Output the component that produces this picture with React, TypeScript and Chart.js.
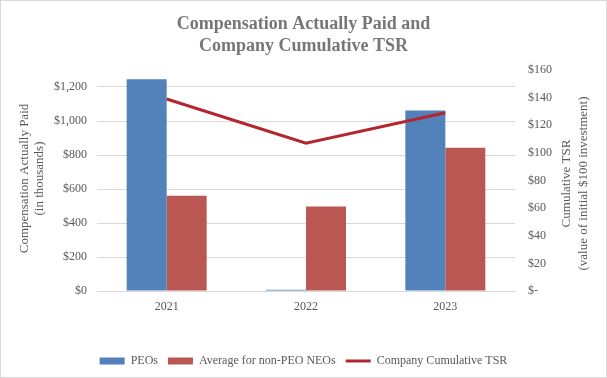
import React, { useEffect, useRef } from 'react';
import { Chart, registerables } from 'chart.js';

Chart.register(...registerables);

const categories = ['2021', '2022', '2023'];
const peoValues = [1245, 8, 1062];
const nonPeoValues = [560, 497, 843];
const tsrValues = [139, 107, 129];
const seriesNames = ['PEOs', 'Average for non-PEO NEOs', 'Company Cumulative TSR'];
const chartTitle = ['Compensation Actually Paid and', 'Company Cumulative TSR'];
const leftTitle = ['Compensation Actually Paid', '(in thousands)'];
const rightTitle = ['Cumulative TSR', '(value of initial $100 investment)'];
const leftTicks = [0, 200, 400, 600, 800, 1000, 1200];
const rightTicks = [0, 20, 40, 60, 80, 100, 120, 140, 160];

const FONT = "'Liberation Serif', 'Times New Roman', serif";
const TEXT = '#595959';
const GRID = '#d9d9d9';

const axisTitlePlugin = {
  id: 'axisTitles',
  afterDraw(chart: any) {
    const { ctx, chartArea } = chart;
    const cy = (chartArea.top + chartArea.bottom) / 2;
    ctx.save();
    ctx.font = `13px ${FONT}`;
    ctx.fillStyle = TEXT;
    ctx.textAlign = 'center';
    ctx.textBaseline = 'middle';
    // left title
    ctx.save();
    ctx.translate(chartArea.left - 72, cy - 2);
    ctx.rotate(-Math.PI / 2);
    leftTitle.forEach((t, i) => ctx.fillText(t, 0, i * 15));
    ctx.restore();
    // right title (same reading direction as the left one)
    ctx.save();
    ctx.translate(chartArea.right + 52, cy + 3);
    ctx.rotate(-Math.PI / 2);
    rightTitle.forEach((t, i) => ctx.fillText(t, 0, i * 17));
    ctx.restore();
    ctx.restore();
  },
};

export default function App() {
  const ref = useRef<HTMLCanvasElement | null>(null);
  useEffect(() => {
    if (!ref.current) return;
    const chart = new Chart(ref.current, {
      type: 'bar',
      data: {
        labels: categories,
        datasets: [
          {
            type: 'bar',
            label: seriesNames[0],
            data: peoValues,
            backgroundColor: '#5381ba',
            borderWidth: 0,
            yAxisID: 'y',
            pointStyle: 'rect',
            order: 1,
          } as any,
          {
            type: 'bar',
            label: seriesNames[1],
            data: nonPeoValues,
            backgroundColor: '#bb5753',
            borderWidth: 0,
            yAxisID: 'y',
            pointStyle: 'rect',
            order: 1,
          },
          {
            type: 'line',
            label: seriesNames[2],
            data: tsrValues,
            borderColor: '#b3262e',
            backgroundColor: '#b3262e',
            borderWidth: 3,
            pointRadius: 0,
            pointStyle: 'line',
            yAxisID: 'y1',
            order: -1,
          },
        ],
      },
      options: {
        responsive: true,
        maintainAspectRatio: false,
        animation: false,
        datasets: { bar: { categoryPercentage: 0.574, barPercentage: 1 } },
        layout: { padding: 0 },
        plugins: {
          tooltip: { enabled: false },
          title: {
            display: true,
            text: chartTitle,
            color: '#767676',
            font: { family: FONT, size: 18, weight: 'bold', lineHeight: 1.25 },
            padding: { top: 12, bottom: 12 },
          },
          legend: {
            position: 'bottom',
            labels: {
              usePointStyle: true,
              pointStyleWidth: 25,
              boxHeight: 7,
              padding: 10,
              color: TEXT,
              font: { family: FONT, size: 12 },
              sort: (a: any, b: any) => a.datasetIndex - b.datasetIndex,
            },
          },
        },
        scales: {
          x: {
            grid: { display: false, drawTicks: false },
            border: { display: true, color: GRID },
            ticks: { color: TEXT, font: { family: FONT, size: 12 }, padding: 9 },
            afterFit: (s: any) => { s.height = 54; },
          },
          y: {
            position: 'left',
            min: 0,
            max: 1300,
            afterBuildTicks: (s: any) => { s.ticks = leftTicks.map((v) => ({ value: v })); },
            grid: { color: GRID, drawTicks: false },
            border: { display: false },
            ticks: {
              color: TEXT,
              font: { family: FONT, size: 12 },
              padding: 10,
              callback: (v: any) => '$' + Number(v).toLocaleString('en-US'),
            },
            afterFit: (s: any) => { s.width = 96; },
          },
          y1: {
            position: 'right',
            min: 0,
            max: 160,
            afterBuildTicks: (s: any) => { s.ticks = rightTicks.map((v) => ({ value: v })); },
            grid: { display: false, drawTicks: false },
            border: { display: false },
            ticks: {
              color: TEXT,
              font: { family: FONT, size: 12 },
              padding: 13,
              callback: (v: any) => (Number(v) === 0 ? '$-' : '$' + v),
            },
            afterFit: (s: any) => { s.width = 91; },
          },
        },
      } as any,
      plugins: [axisTitlePlugin],
    });
    return () => chart.destroy();
  }, []);

  return (
    <div
      style={{
        position: 'fixed',
        left: 0,
        top: 0,
        width: 607,
        height: 378,
        boxSizing: 'border-box',
        border: '1px solid #d9d9d9',
        background: '#fff',
      }}
    >
      <div style={{ position: 'relative', width: 605, height: 376 }}>
        <canvas ref={ref} />
      </div>
    </div>
  );
}
